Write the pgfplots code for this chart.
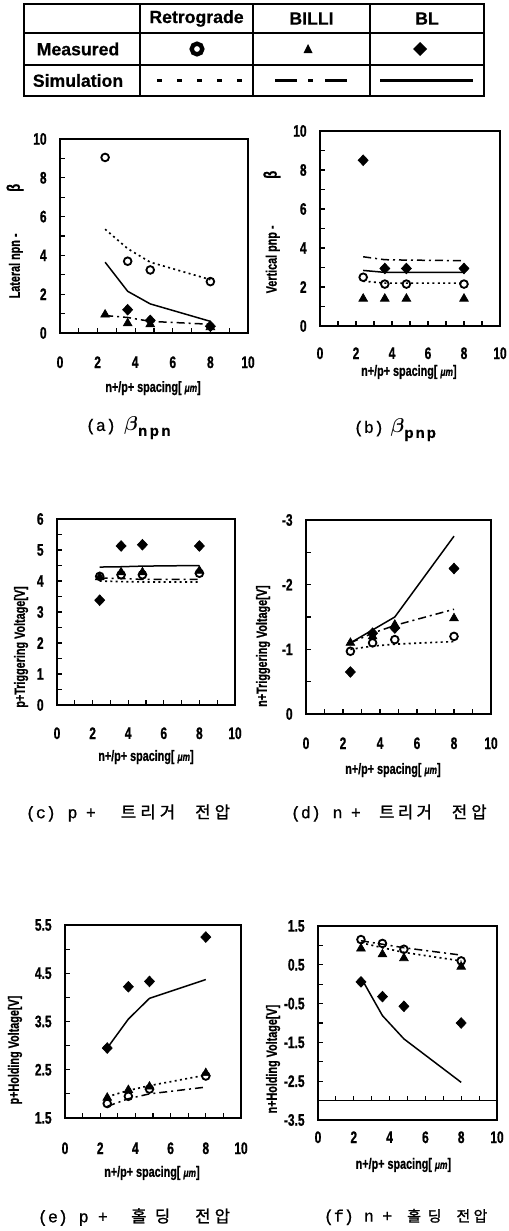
\documentclass[border=0pt]{standalone}
\usepackage{pgfplots}
\pgfplotsset{compat=1.18}
\usepackage{amsmath}
\usepackage{fontspec}
\setmainfont{Liberation Sans}
\newfontfamily\lbl{Liberation Sans}[FakeStretch=0.72,FakeBold=0.8]
\newfontfamily\tbl{Liberation Sans}[FakeBold=0.6]
\newfontfamily\kr{Noto Sans CJK KR}[FakeBold=1.2]
\newfontfamily\capf{Liberation Mono}[FakeBold=0.8]

\newcommand\sub[1]{{\tbl\bfseries\fontsize{9}{9}\selectfont #1}}

\pgfplotsset{
  panel/.style={
    scale only axis, anchor=north west,
    xmin=0, xmax=10, xtick={0,2,...,10}, minor xtick={1,3,...,9},
    axis line style={line width=1.2pt},
    every tick/.style={line width=0.7pt, black},
    major tick length=3pt, minor tick length=3pt,
    tick align=inside, xtick pos=bottom, ytick pos=left,
    /pgf/number format/assume math mode=true,
    tick label style={font=\lbl\bfseries\fontsize{10}{10}\selectfont},
    yticklabel style={xshift=-4.5pt},
    label style={font=\lbl\bfseries\fontsize{9}{9}\selectfont},
    clip=false,
  },
  retm/.style={black, only marks, mark=o, mark size=2.3pt, mark options={line width=1.1pt, solid, fill=white}},
  billm/.style={black, only marks, mark=triangle*, mark size=3pt, mark options={solid, fill=black}},
  blm/.style={black, only marks, mark=diamond*, mark size=3.2pt, mark options={solid, fill=black, xscale=1.25}},
  rets/.style={black, no markers, line width=1pt, dash pattern=on 1.2pt off 2pt},
  bills/.style={black, no markers, line width=0.9pt, dash pattern=on 4.8pt off 2.4pt on 1.2pt off 2.4pt},
  bls/.style={black, no markers, line width=0.9pt, solid},
}

\begin{document}
\begin{tikzpicture}[x=0.6pt,y=-0.6pt]
\useasboundingbox (0,0) rectangle (509,1231);

% ---------- legend table ----------
\draw[line width=1.3pt] (24,4) rectangle (484,96);
\draw[line width=1pt] (24,33) -- (484,33) (24,65) -- (484,65);
\draw[line width=1.3pt] (140,4) -- (140,96) (253,4) -- (253,96) (370,4) -- (370,96);
\begin{scope}[font=\tbl\bfseries\fontsize{10.6}{11}\selectfont]
\node at (196.5,18.5) {Retrograde};
\node at (311.5,18.5) {BILLI};
\node at (427,18.5) {BL};
\node at (78,49) {Measured};
\node at (78,80.5) {Simulation};
\end{scope}
\draw[line width=2.6pt] (197,49) circle[radius=3.2pt];
\fill (308,44) -- (303.5,53) -- (312.5,53) -- cycle;
\fill (420,42) -- (427,49) -- (420,56) -- (413,49) -- cycle;
\draw[line width=1.8pt, dash pattern=on 3pt off 9pt] (157,80.5) -- (242,80.5);
\draw[line width=1.8pt, dash pattern=on 13pt off 7pt on 3pt off 7pt] (275,80.5) -- (352,80.5);
\draw[line width=1.8pt] (380,80.5) -- (473,80.5);

% ---------- (a) ----------
\begin{axis}[panel, at={(36pt,-83.4pt)}, width=112.8pt, height=116.4pt,
  ymin=0, ymax=10, ytick={0,2,...,10}, minor ytick={1,3,...,9},
  xticklabel style={yshift=-10.5pt},
  xlabel={n+/p+ spacing[ \textit{\fontsize{7}{7}\selectfont μm}]},
  ylabel={Lateral npn -\hspace{25pt}{\fontsize{11}{11}\selectfont β}},
  xlabel style={at={(axis description cs:0.495,-0.284)}, anchor=center},
  ylabel style={at={(axis description cs:-0.239,0.474)}, anchor=center}]
\addplot[retm] coordinates {(2.4,9.05) (3.6,3.7) (4.8,3.25) (8.0,2.65)};
\addplot[rets] coordinates {(2.4,5.35) (3.6,4.35) (4.8,3.65) (8.0,2.75)};
\addplot[bls] coordinates {(2.4,3.65) (3.6,2.15) (4.8,1.5) (8.0,0.6)};
\addplot[blm] coordinates {(3.6,1.2) (4.8,0.65) (8.0,0.35)};
\addplot[billm] coordinates {(2.4,0.95) (3.6,0.5) (4.8,0.45) (8.0,0.3)};
\addplot[bills] coordinates {(2.4,0.9) (3.6,0.8) (4.8,0.6) (8.0,0.45)};
\end{axis}

% ---------- (b) ----------
\begin{axis}[panel, at={(192pt,-78.6pt)}, width=108pt, height=117pt,
  ymin=0, ymax=10, ytick={0,2,...,10}, minor ytick={1,3,...,9},
  xticklabel style={yshift=-9.3pt},
  xlabel={n+/p+ spacing[ \textit{\fontsize{7}{7}\selectfont μm}]},
  ylabel={Vertical pnp -\hspace{28pt}{\fontsize{11}{11}\selectfont β}},
  xlabel style={at={(axis description cs:0.494,-0.236)}, anchor=center},
  ylabel style={at={(axis description cs:-0.267,0.482)}, anchor=center}]
\addplot[blm] coordinates {(2.4,8.5) (3.6,2.95) (4.8,2.95) (8.0,2.95)};
\addplot[bills] coordinates {(2.4,3.55) (3.6,3.4) (4.8,3.38) (8.0,3.35)};
\addplot[bls] coordinates {(2.4,2.85) (3.6,2.75) (4.8,2.75) (8.0,2.75)};
\addplot[retm] coordinates {(2.4,2.5) (3.6,2.15) (4.8,2.15) (8.0,2.15)};
\addplot[rets] coordinates {(2.4,2.3) (3.6,2.2) (4.8,2.2) (8.0,2.2)};
\addplot[billm] coordinates {(2.4,1.4) (3.6,1.4) (4.8,1.4) (8.0,1.4)};
\end{axis}

% ---------- (c) ----------
\begin{axis}[panel, at={(34.2pt,-311.4pt)}, width=106.8pt, height=111.6pt,
  ymin=0, ymax=6, ytick={0,1,...,6}, minor ytick={0.5,1.5,...,5.5},
  xticklabel style={yshift=-9.9pt},
  xlabel={n+/p+ spacing[ \textit{\fontsize{7}{7}\selectfont μm}]},
  ylabel={p+Triggering Voltage[V]},
  xlabel style={at={(axis description cs:0.5,-0.28)}, anchor=center},
  ylabel style={at={(axis description cs:-0.202,0.312)}, anchor=center}]
\addplot[blm] coordinates {(2.4,3.38) (3.6,5.13) (4.8,5.17) (8.0,5.13)};
\addplot[bls] coordinates {(2.4,4.45) (3.6,4.46) (4.8,4.48) (8.0,4.5)};
\addplot[retm] coordinates {(2.4,4.15) (3.6,4.2) (4.8,4.2) (8.0,4.25)};
\addplot[billm] coordinates {(2.4,4.12) (3.6,4.28) (4.8,4.28) (8.0,4.33)};
\addplot[rets] coordinates {(2.4,4.0) (3.6,3.98) (4.8,3.97) (8.0,3.97)};
\addplot[bills] coordinates {(2.4,4.1) (3.6,4.08) (4.8,4.05) (8.0,4.05)};
\end{axis}

% ---------- (d) ----------
\begin{axis}[panel, at={(183.6pt,-312pt)}, width=111pt, height=116.4pt,
  y dir=reverse, ymin=-3, ymax=0, ytick={-3,-2,-1,0}, minor ytick={-2.5,-1.5,-0.5},
  xticklabel style={yshift=-10.5pt},
  xlabel={n+/p+ spacing[ \textit{\fontsize{7}{7}\selectfont μm}]},
  ylabel={n+Triggering Voltage[V]},
  xlabel style={at={(axis description cs:0.47,-0.289)}, anchor=center},
  ylabel style={at={(axis description cs:-0.232,0.35)}, anchor=center}]
\addplot[bls] coordinates {(2.4,-1.1) (3.6,-1.3) (4.8,-1.5) (8.0,-2.75)};
\addplot[bills] coordinates {(2.4,-1.1) (3.6,-1.25) (4.8,-1.37) (8.0,-1.62)};
\addplot[rets] coordinates {(2.4,-1.0) (3.6,-1.05) (4.8,-1.08) (8.0,-1.12)};
\addplot[retm] coordinates {(2.4,-0.97) (3.6,-1.1) (4.8,-1.15) (8.0,-1.2)};
\addplot[billm] coordinates {(2.4,-1.1) (3.6,-1.2) (4.8,-1.38) (8.0,-1.48)};
\addplot[blm] coordinates {(2.4,-0.65) (3.6,-1.25) (4.8,-1.33) (8.0,-2.25)};
\end{axis}

% ---------- (e) ----------
\begin{axis}[panel, at={(39pt,-555pt)}, width=105.6pt, height=115.8pt,
  ymin=1.5, ymax=5.5, ytick={1.5,2.5,...,5.5}, minor ytick={2,3,4,5},
  yticklabel style={/pgf/number format/.cd, fixed, fixed zerofill, precision=1},
  xticklabel style={yshift=-11.1pt},
  xlabel={n+/p+ spacing[ \textit{\fontsize{7}{7}\selectfont μm}]},
  ylabel={p+Holding Voltage[V]},
  xlabel style={at={(axis description cs:0.494,-0.285)}, anchor=center},
  ylabel style={at={(axis description cs:-0.284,0.352)}, anchor=center}]
\addplot[blm] coordinates {(2.4,2.95) (3.6,4.22) (4.8,4.33) (8.0,5.25)};
\addplot[bls] coordinates {(2.4,2.95) (3.6,3.55) (4.8,3.98) (8.0,4.37)};
\addplot[billm] coordinates {(2.4,1.92) (3.6,2.08) (4.8,2.15) (8.0,2.43)};
\addplot[retm] coordinates {(2.4,1.8) (3.6,1.95) (4.8,2.1) (8.0,2.37)};
\addplot[rets] coordinates {(2.4,1.94) (3.6,2.07) (4.8,2.17) (8.0,2.39)};
\addplot[bills] coordinates {(2.4,1.74) (3.6,1.9) (4.8,2.0) (8.0,2.14)};
\end{axis}

% ---------- (f) ----------
\begin{axis}[panel, at={(190.8pt,-555.6pt)}, width=107.4pt, height=116.4pt,
  ymin=-3.5, ymax=1.5, ytick={-3.5,-2.5,...,1.5}, minor ytick={-3,-2,...,1},
  minor xtick={}, xtick style={draw=none},
  yticklabel style={/pgf/number format/.cd, fixed, fixed zerofill, precision=1},
  xticklabel style={yshift=-3.3pt},
  xlabel={n+/p+ spacing[ \textit{\fontsize{7}{7}\selectfont μm}]},
  ylabel={n+Holding Voltage[V]},
  xlabel style={at={(axis description cs:0.477,-0.232)}, anchor=center},
  ylabel style={at={(axis description cs:-0.251,0.314)}, anchor=center}]
\draw[line width=0.7pt] (axis cs:0,-3) -- (axis cs:10,-3);
\pgfplotsinvokeforeach{1,...,9}{\draw[line width=0.7pt] (axis cs:#1,-3) -- ++(0pt,3pt);}
\addplot[retm] coordinates {(2.4,1.15) (3.6,1.05) (4.8,0.9) (8.0,0.6)};
\addplot[billm] coordinates {(2.4,0.92) (3.6,0.77) (4.8,0.67) (8.0,0.45)};
\addplot[bills] coordinates {(2.4,1.12) (3.6,1.03) (4.8,0.94) (8.0,0.75)};
\addplot[rets] coordinates {(2.4,1.07) (3.6,0.94) (4.8,0.82) (8.0,0.6)};
\addplot[blm] coordinates {(2.4,0.06) (3.6,-0.32) (4.8,-0.57) (8.0,-1.0)};
\addplot[bls] coordinates {(2.4,0.17) (3.6,-0.81) (4.8,-1.41) (8.0,-2.53)};
\end{axis}

% ---------- captions ----------
\begin{scope}[font=\capf\fontsize{10}{10}\selectfont]
\node[anchor=west] at (80,428) {(a)\kern5pt{\fontsize{13}{13}\selectfont$\boldsymbol{\beta}$}\raisebox{-3pt}{\sub{n\kern1.5pt p\kern1.5pt n}}};
\node[anchor=west] at (348,430) {(b)\kern4pt{\fontsize{12}{12}\selectfont$\boldsymbol{\beta}$}\raisebox{-3pt}{\sub{p\kern1.2pt n\kern1.2pt p}}};
\node[anchor=west] at (20,813) {(c)\kern7pt p\kern5pt+\kern15pt{\kr\fontsize{10}{10}\selectfont 트\kern2.5pt 리\kern2.5pt 거\kern12pt 전\kern2.5pt 압}};
\node[anchor=west] at (285,813) {(d)\kern7pt n\kern5pt+\kern11pt{\kr\fontsize{10}{10}\selectfont 트\kern2pt 리\kern2pt 거\kern12pt 전\kern2.5pt 압}};
\node[anchor=west] at (32,1217) {(e)\kern6.5pt p\kern5.5pt+\kern14pt{\kr\fontsize{10}{10}\selectfont 홀\kern5pt 딩\kern15pt 전\kern2.5pt 압}};
\node[anchor=west] at (318,1217) {(f)\kern6pt n\kern5pt+\kern9pt{\kr\fontsize{9}{9}\selectfont 홀\kern4pt 딩\kern9pt 전\kern2pt 압}};
\end{scope}
\end{tikzpicture}
\end{document}
